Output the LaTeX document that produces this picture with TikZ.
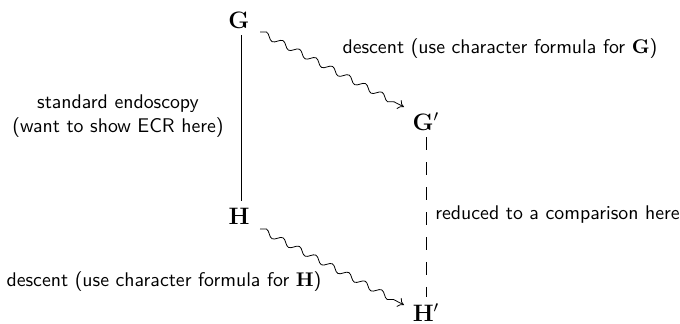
\documentclass[tikz,border=0pt]{standalone}
\usetikzlibrary{decorations.pathmorphing,arrows.meta}
\begin{document}
\begin{tikzpicture}[x=0.505pt,y=-0.505pt,
  obj/.style={font=\large},
  lbl/.style={font=\sffamily,inner sep=0pt},
  squig/.style={-{To[length=3pt,width=5pt]},decorate,decoration={snake,amplitude=1.5pt,segment length=9.4pt,post length=3.5pt}},
  dashline/.style={dash pattern=on 6.6pt off 6pt}]
\useasboundingbox (0,0) rectangle (680,324);
\node[obj] (G) at (239,20) {$\mathbf{G}$};
\node[obj] (Gp) at (426,121.5) {$\mathbf{G}'$};
\node[obj] (H) at (239,216.5) {$\mathbf{H}$};
\node[obj] (Hp) at (426,312.5) {$\mathbf{H}'$};
\coordinate (g1) at (260,32);
\coordinate (g2) at (404,107);
\coordinate (h1) at (260,229);
\coordinate (h2) at (404,305);
\draw[squig] (g1) -- (g2);
\draw[squig] (h1) -- (h2);
\draw ([xshift=1pt]G.south) -- ([xshift=1pt]H.north);
\draw[dashline] (Gp.south) -- (Hp.north);
\node[lbl] (l1) at (500,49) {descent (use character formula for $\mathbf{G}$)};
\node[lbl,align=center] (l2) at (118,116) {standard endoscopy\\(want to show ECR here)};
\node[lbl,anchor=west] (l3) at (435,215) {reduced to a comparison here};
\node[lbl] (l4) at (164,282) {descent (use character formula for $\mathbf{H}$)};
\end{tikzpicture}
\end{document}
